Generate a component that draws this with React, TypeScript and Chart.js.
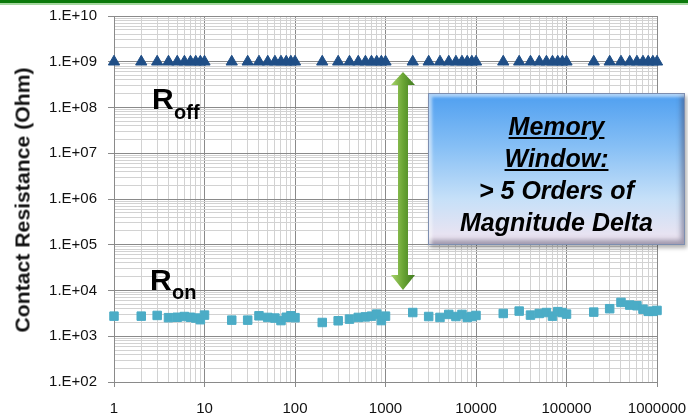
import React, { useEffect, useRef } from "react";
import { Chart, registerables } from "chart.js";
Chart.register(...registerables);

// ---- data ----
const cycles = [
  1, 2, 3, 4, 5, 6, 7, 8, 9, 10,
  20, 30, 40, 50, 60, 70, 80, 90, 100,
  200, 300, 400, 500, 600, 700, 800, 900, 1000,
  2000, 3000, 4000, 5000, 6000, 7000, 8000, 9000, 10000,
  20000, 30000, 40000, 50000, 60000, 70000, 80000, 90000, 100000,
  200000, 300000, 400000, 500000, 600000, 700000, 800000, 900000, 1000000,
];
const roffOhm = [
  1e9, 1e9, 1e9, 1e9, 1e9, 1e9, 1e9, 1e9, 1e9, 1e9,
  1e9, 1e9, 1e9, 1e9, 1e9, 1e9, 1e9, 1e9, 1e9,
  1e9, 1e9, 1e9, 1e9, 1e9, 1e9, 1e9, 1e9, 1e9,
  1e9, 1e9, 1e9, 1e9, 1e9, 1e9, 1e9, 1e9, 1e9,
  1e9, 1e9, 1e9, 1e9, 1e9, 1e9, 1e9, 1e9, 1e9,
  1e9, 1e9, 1e9, 1e9, 1e9, 1e9, 1e9, 1e9, 1e9,
];
const ronOhm = [
  2750, 2750, 2850, 2550, 2600, 2700, 2600, 2500, 2300, 2900,
  2250, 2250, 2800, 2580, 2500, 2200, 2600, 2800, 2550,
  2000, 2180, 2370, 2580, 2650, 2750, 3050, 2200, 2750,
  3300, 2700, 2580, 3000, 2700, 3000, 2580, 2700, 2850,
  3150, 3550, 2900, 3150, 3300, 2750, 3450, 3300, 3050,
  3370, 4000, 5500, 4800, 4650, 3900, 3500, 3500, 3670,
];
const xMin = 1;
const xMax = 1000000;
const yMin = 1e2;
const yMax = 1e10;
const xTickLabels = ["1", "10", "100", "1000", "10000", "100000", "1000000"];
const yTickLabels = ["1.E+02", "1.E+03", "1.E+04", "1.E+05", "1.E+06", "1.E+07", "1.E+08", "1.E+09", "1.E+10"];

const FONT = "'Liberation Sans', Arial, sans-serif";

function isMajor(v: number) {
  const l = Math.log10(v);
  return Math.abs(l - Math.round(l)) < 1e-6;
}
function logTicks(min: number, max: number) {
  const out: { value: number; major: boolean }[] = [];
  const e0 = Math.round(Math.log10(min));
  const e1 = Math.round(Math.log10(max));
  for (let e = e0; e <= e1; e++) {
    for (let m = 1; m <= 9; m++) {
      const v = m * Math.pow(10, e);
      if (v > max * 1.000001) break;
      out.push({ value: v, major: m === 1 });
    }
  }
  return out;
}

const gridColor = (ctx: any) => {
  const v = ctx.tick ? ctx.tick.value : 1;
  return isMajor(v) ? "#8a8a8a" : "#d2d2d2";
};
const tickColor = (ctx: any) => {
  const v = ctx.tick ? ctx.tick.value : 1;
  return isMajor(v) ? "#8a8a8a" : "rgba(0,0,0,0)";
};

export default function App() {
  const ref = useRef<HTMLCanvasElement | null>(null);

  useEffect(() => {
    if (!ref.current) return;
    const chart = new Chart(ref.current, {
      type: "scatter",
      data: {
        datasets: [
          {
            label: "Roff",
            data: cycles.map((c, i) => ({ x: c, y: roffOhm[i] })),
            pointStyle: "triangle",
            pointRadius: 6.5,
            pointBackgroundColor: "#1f4e86",
            pointBorderColor: "#1f4e86",
            pointBorderWidth: 1,
            showLine: false,
            clip: false,
          },
          {
            label: "Ron",
            data: cycles.map((c, i) => ({ x: c, y: ronOhm[i] })),
            pointStyle: "rect",
            pointRadius: 6,
            pointBackgroundColor: "#4bacc6",
            pointBorderColor: "#4bacc6",
            pointBorderWidth: 1,
            showLine: false,
            clip: false,
          },
        ],
      },
      options: {
        responsive: false,
        animation: false,
        devicePixelRatio: 1,
        layout: { padding: { left: 0, top: 16, right: 31, bottom: 0 } },
        plugins: { legend: { display: false }, tooltip: { enabled: false } },
        scales: {
          x: {
            type: "logarithmic",
            min: xMin,
            max: xMax,
            afterBuildTicks: (s: any) => {
              s.ticks = logTicks(xMin, xMax);
            },
            afterFit: (s: any) => {
              s.height = 38;
              s.paddingLeft = 0;
              s.paddingRight = 0;
            },
            grid: { color: gridColor, tickColor: tickColor, tickLength: 5, lineWidth: 1 },
            border: { color: "#8a8a8a" },
            ticks: {
              autoSkip: false,
              maxRotation: 0,
              padding: 13,
              color: "#111",
              font: { family: FONT, size: 15 },
              callback: (v: any) => (isMajor(Number(v)) ? xTickLabels[Math.round(Math.log10(Number(v)))] : ""),
            },
          },
          y: {
            type: "logarithmic",
            min: yMin,
            max: yMax,
            afterBuildTicks: (s: any) => {
              s.ticks = logTicks(yMin, yMax);
            },
            afterFit: (s: any) => {
              s.width = 114;
              s.paddingTop = 0;
              s.paddingBottom = 0;
            },
            grid: { color: gridColor, tickColor: tickColor, tickLength: 6, lineWidth: 1 },
            border: { color: "#8a8a8a" },
            ticks: {
              autoSkip: false,
              padding: 11,
              color: "#111",
              font: { family: FONT, size: 15 },
              callback: (v: any) => (isMajor(Number(v)) ? yTickLabels[Math.round(Math.log10(Number(v))) - 2] : ""),
            },
          },
        },
      },
    } as any);
    return () => chart.destroy();
  }, []);

  const abs = (o: React.CSSProperties): React.CSSProperties => ({ position: "absolute", ...o });

  return (
    <div style={{ position: "fixed", left: 0, top: 0, width: 688, height: 420, background: "#fff", overflow: "hidden" }}>
      <canvas ref={ref} width={688} height={420} style={abs({ left: 0, top: 0, width: 688, height: 420 })} />
      {/* top green rule */}
      <div style={abs({ left: 0, top: 0, width: 688, height: 3, background: "#0b7a0b" })} />
      <div style={abs({ left: 0, top: 3, width: 688, height: 2, background: "#a6d8a0" })} />
      {/* y title */}
      <div
        style={abs({
          left: 23,
          top: 200,
          transform: "translate(-50%,-50%) rotate(-90deg) scaleX(1.06)",
          whiteSpace: "nowrap",
          font: `bold 20px ${FONT}`,
          color: "#111",
        })}
      >
        Contact Resistance (Ohm)
      </div>
      {/* R off */}
      <div style={abs({ left: 152, top: 84, font: `bold 30px ${FONT}`, lineHeight: "30px", color: "#000" })}>R</div>
      <div style={abs({ left: 174, top: 102, font: `bold 20px ${FONT}`, lineHeight: "20px", color: "#000" })}>off</div>
      {/* R on */}
      <div style={abs({ left: 150, top: 265, font: `bold 30px ${FONT}`, lineHeight: "30px", color: "#000" })}>R</div>
      <div style={abs({ left: 172, top: 282, font: `bold 20px ${FONT}`, lineHeight: "20px", color: "#000" })}>on</div>
      {/* double arrow */}
      <svg style={abs({ left: 388, top: 70, overflow: "visible" })} width={30} height={222}>
        <defs>
          <linearGradient id="ag" x1="0" x2="1" y1="0" y2="0">
            <stop offset="0" stopColor="#a9d46c" />
            <stop offset="0.5" stopColor="#6aa534" />
            <stop offset="1" stopColor="#3f7a1f" />
          </linearGradient>
        </defs>
        <polygon
          points="15,2 27,15 20,15 20,205 27,205 15,220 3,205 10,205 10,15 3,15"
          fill="url(#ag)"
        />
      </svg>
      {/* memory window box */}
      <div
        style={abs({
          left: 428,
          top: 93,
          width: 257,
          height: 152,
          boxSizing: "border-box",
          background: "linear-gradient(to bottom, #4f9ff0 0%, #86bff5 35%, #c6e0f8 70%, #f1e4f0 100%)",
          border: "1px solid #7d8eb0",
          boxShadow:
            "inset 3px 3px 3px rgba(255,255,255,0.55), inset -3px -4px 5px rgba(60,60,90,0.45), 2px 3px 4px rgba(0,0,0,0.3)",
          textAlign: "center",
          paddingTop: 16,
          font: `italic bold 25px ${FONT}`,
          lineHeight: "32px",
          color: "#000",
        })}
      >
        <div style={{ textDecoration: "underline" }}>Memory</div>
        <div style={{ textDecoration: "underline" }}>Window:</div>
        <div>&gt; 5 Orders of</div>
        <div>Magnitude Delta</div>
      </div>
    </div>
  );
}
